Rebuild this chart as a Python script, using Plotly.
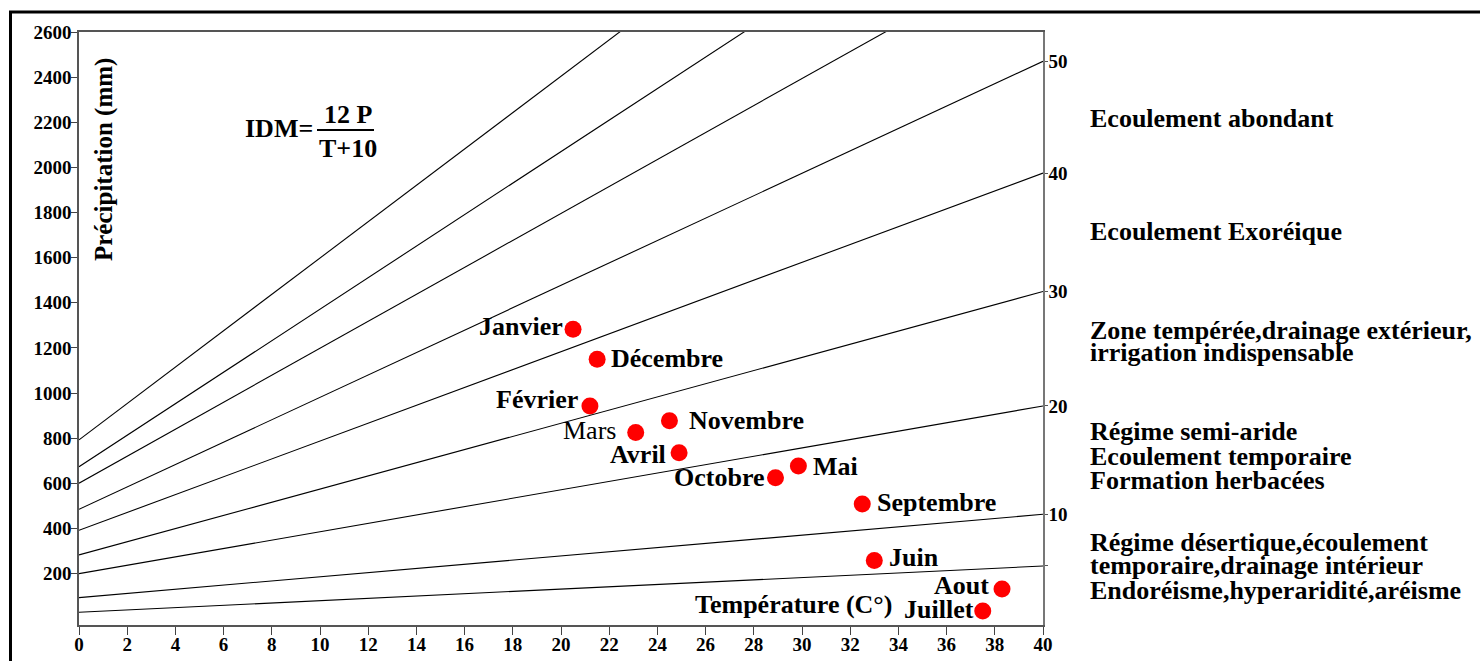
import plotly.graph_objects as go

# Monthly climate points (temperature °C, precipitation mm)
months = ["Janvier", "Février", "Mars", "Avril", "Mai", "Juin",
          "Juillet", "Aout", "Septembre", "Octobre", "Novembre", "Décembre"]
temperature = [20.5, 21.2, 23.1, 24.9, 29.85, 33.0, 37.5, 38.3, 32.5, 28.9, 24.5, 21.5]
precipitation = [1283, 943, 825, 736, 677, 258, 35, 132, 509, 625, 878, 1150]

# De Martonne index isolines: precipitation at T = 0 and at T = 40
idm_levels = [5, 10, 20, 30, 40, 50, 60, 70, 80]
p_at_t0 = [29, 94, 200, 283, 392, 485, 601, 674, 793]
p_at_t40 = [234, 463, 943, 1450, 1975, 2470, 2991, 3466, 4015]
t_span = [0, 40]

x_ticks = list(range(0, 41, 2))
y_ticks = list(range(200, 2601, 200))
Y_RANGE = [-27.5, 2600]

zones = [
    ("Ecoulement abondant", 118.5),
    ("Ecoulement Exoréique", 231.5),
    ("Zone tempérée,drainage extérieur,", 330.5),
    ("irrigation indispensable", 352),
    ("Régime semi-aride", 431),
    ("Ecoulement temporaire", 456),
    ("Formation herbacées", 480),
    ("Régime désertique,écoulement", 542),
    ("temporaire,drainage intérieur", 565.5),
    ("Endoréisme,hyperaridité,aréisme", 590),
]

# label placement per month: (side, xshift, yshift, bold)
label_style = {
    "Janvier": ("right", -8, 3, True),
    "Février": ("right", -10, 6, True),
    "Mars": ("right", -18, 2, False),
    "Avril": ("right", -11, -2, True),
    "Mai": ("left", 13, 0, True),
    "Juin": ("left", 13, 3, True),
    "Juillet": ("right", -7, 1.5, True),
    "Aout": ("right", -11, 3.5, True),
    "Septembre": ("left", 13, 1, True),
    "Octobre": ("right", -8, 0, True),
    "Novembre": ("left", 18, 0, True),
    "Décembre": ("left", 12, 1, True),
}

W, H = 1480, 661
ML, MR, MT, MB = 79, 437, 32, 36
PW, PH = W - ML - MR, H - MT - MB
FONT = "Liberation Serif"


def paper_x(px):
    return (px - ML) / PW


def paper_y(py):
    return (H - MB - py) / PH


fig = go.Figure()

for lvl, p0, p40 in zip(idm_levels, p_at_t0, p_at_t40):
    fig.add_trace(go.Scatter(
        x=t_span, y=[p0, p40], mode="lines", yaxis="y2",
        line=dict(color="black", width=1.1), showlegend=False,
        hoverinfo="skip", name=f"IDM {lvl}"))

fig.add_trace(go.Scatter(
    x=temperature, y=precipitation, mode="markers",
    marker=dict(color="#ff0000", size=17, line=dict(width=0)),
    text=months, showlegend=False, cliponaxis=False))

annotations = []
for m, t, p in zip(months, temperature, precipitation):
    side, xs, ys, bold = label_style[m]
    annotations.append(dict(
        x=t, y=p, xref="x", yref="y", text=m, showarrow=False,
        xanchor=side, yanchor="middle", xshift=xs, yshift=ys,
        font=dict(family=FONT, size=26, color="black",
                  weight="bold" if bold else "normal")))

for txt, py in zones:
    annotations.append(dict(
        x=paper_x(1088), y=paper_y(py), xref="paper", yref="paper",
        text=txt, showarrow=False, xanchor="left", yanchor="middle",
        font=dict(family=FONT, size=26, color="black", weight="bold")))

annotations += [
    dict(x=paper_x(104), y=paper_y(160), xref="paper", yref="paper",
         text="Précipitation (mm)", textangle=-90, showarrow=False,
         xanchor="center", yanchor="middle",
         font=dict(family=FONT, size=25, color="black", weight="bold")),
    dict(x=paper_x(793), y=paper_y(604.7), xref="paper", yref="paper",
         text="Température (C°)", showarrow=False,
         xanchor="center", yanchor="middle",
         font=dict(family=FONT, size=26, color="black", weight="bold")),
    dict(x=paper_x(315), y=paper_y(128), xref="paper", yref="paper",
         text="IDM=", showarrow=False, xanchor="right", yanchor="middle",
         font=dict(family=FONT, size=26, color="black", weight="bold")),
    dict(x=paper_x(348), y=paper_y(115), xref="paper", yref="paper",
         text="12 P", showarrow=False, xanchor="center", yanchor="middle",
         font=dict(family=FONT, size=26, color="black", weight="bold")),
    dict(x=paper_x(348), y=paper_y(148), xref="paper", yref="paper",
         text="T+10", showarrow=False, xanchor="center", yanchor="middle",
         font=dict(family=FONT, size=26, color="black", weight="bold")),
]

shapes = [
    # fraction bar of the index formula
    dict(type="line", xref="paper", yref="paper",
         x0=paper_x(317), x1=paper_x(374), y0=paper_y(130), y1=paper_y(130),
         line=dict(color="black", width=2)),
    # outer frame
    dict(type="rect", xref="paper", yref="paper",
         x0=paper_x(10.5), x1=1.6, y0=-0.3, y1=paper_y(12),
         line=dict(color="black", width=3), layer="above"),
]

right_vals = [v for v in p_at_t40 if v <= Y_RANGE[1]]
right_text = [str(l) if l >= 10 else "" for l, v in zip(idm_levels, p_at_t40) if v <= Y_RANGE[1]]

tick_font = dict(family=FONT, size=19, color="black", weight="bold")

fig.update_layout(
    width=W, height=H,
    margin=dict(l=ML, r=MR, t=MT, b=MB, autoexpand=False),
    paper_bgcolor="white", plot_bgcolor="white",
    showlegend=False,
    xaxis=dict(range=[0, 40], tickvals=x_ticks, ticks="outside", ticklen=8,
               tickcolor="#444", showline=True, linecolor="#555", linewidth=1.5,
               mirror=True, showgrid=False, zeroline=False, tickfont=tick_font,
               ticklabelstandoff=-7, automargin=False),
    yaxis=dict(range=Y_RANGE, tickvals=y_ticks, ticks="outside", ticklen=6,
               tickcolor="#444", showline=True, linecolor="#555", linewidth=1.5,
               showgrid=False, zeroline=False, tickfont=tick_font,
               ticklabelstandoff=-4, automargin=False),
    yaxis2=dict(range=Y_RANGE, overlaying="y", side="right",
                tickvals=right_vals, ticktext=right_text, ticks="outside",
                ticklen=3, tickcolor="#555", showline=True, linecolor="#777",
                linewidth=1.5, showgrid=False, zeroline=False, automargin=False,
                ticklabelstandoff=-3,
                tickfont=dict(family=FONT, size=19, color="black", weight="bold")),
    annotations=annotations,
    shapes=shapes,
)

fig.write_html("out.html")
